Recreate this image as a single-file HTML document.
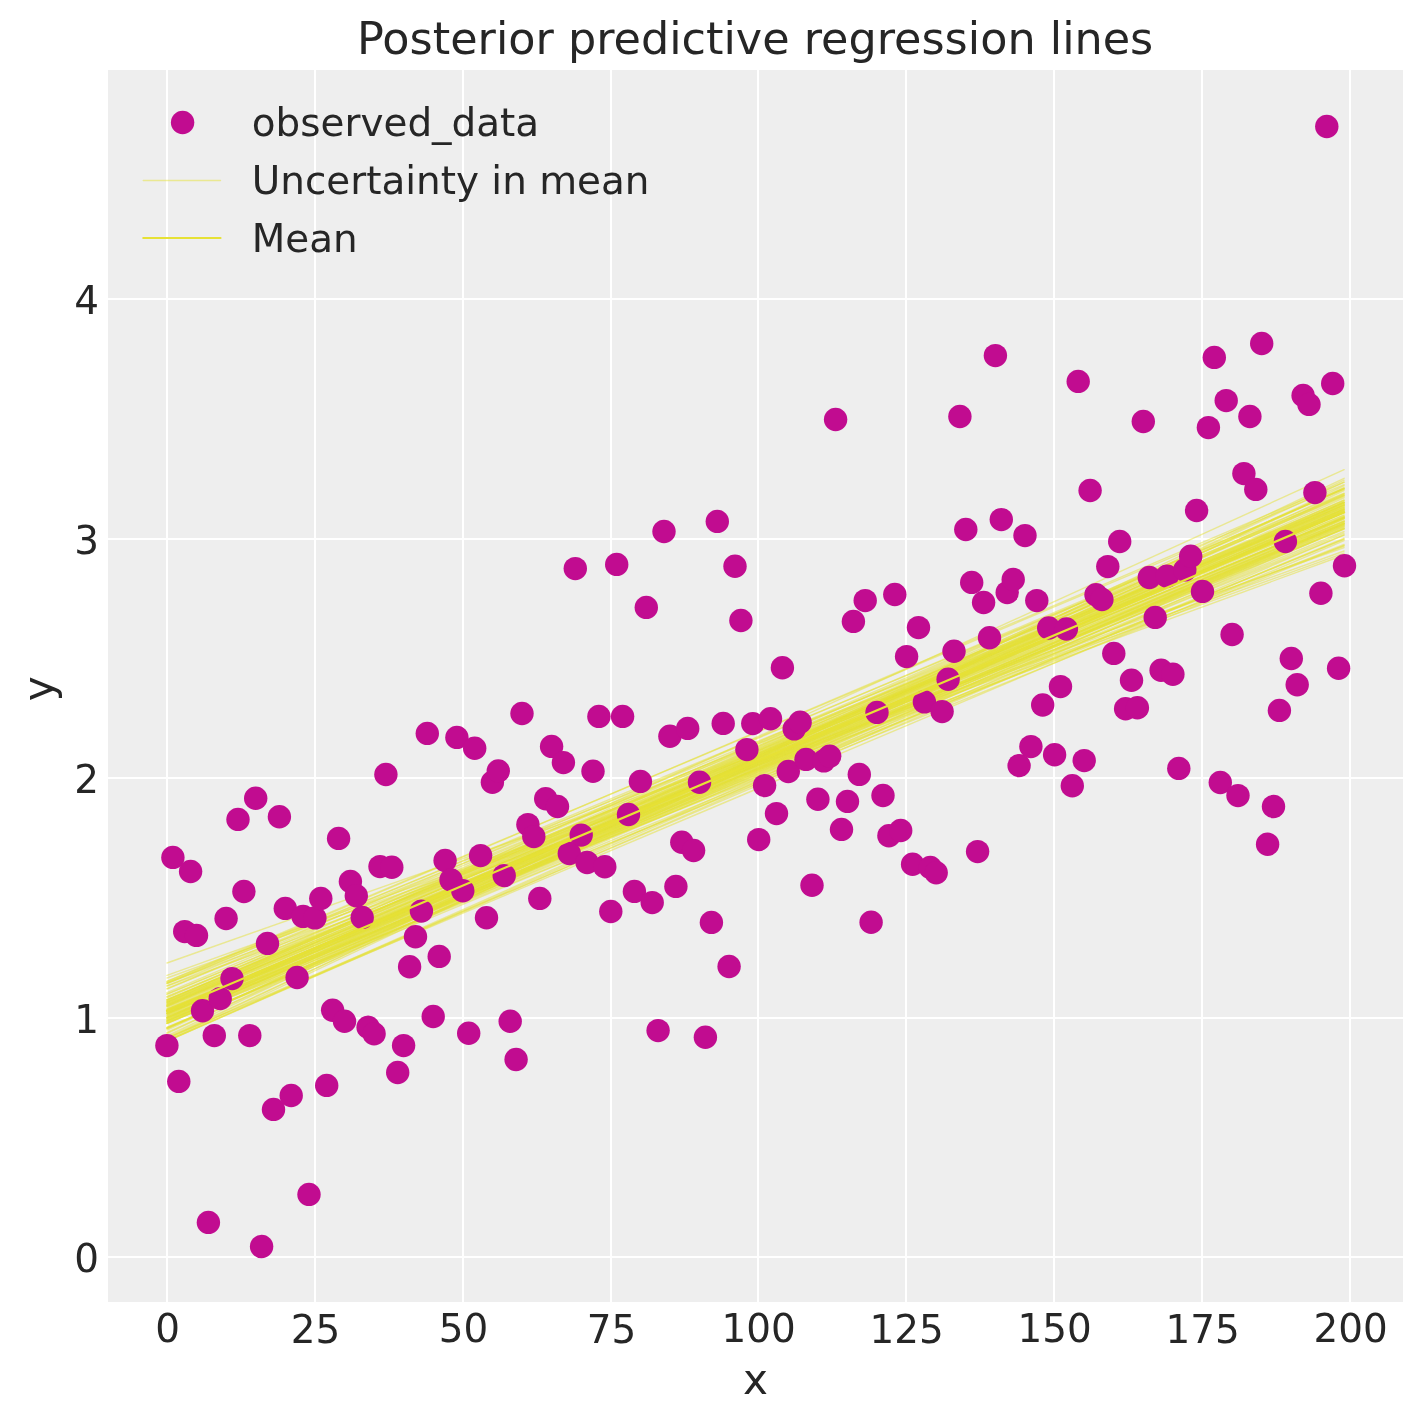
<!DOCTYPE html>
<html lang="en"><head><meta charset="utf-8"><title>Posterior predictive regression lines</title>
<style>
html,body{margin:0;padding:0;background:#fff;}
body{width:1423px;height:1423px;overflow:hidden;}
svg{display:block;}
text{font-family:"DejaVu Sans", "Liberation Sans", sans-serif;fill:#262626;}
.tk{font-size:38.9px;}
.lb{font-size:42.2px;}
.g rect{fill:#fff;}
.u line{stroke:#e6e135;stroke-opacity:0.5;stroke-width:1.39;stroke-linecap:round;}
.p circle{fill:#c10c90;}
</style></head><body>
<svg width="1423" height="1423" viewBox="0 0 1423 1423">
<rect x="0" y="0" width="1423" height="1423" fill="#ffffff"/>
<rect x="108" y="70" width="1295" height="1232" fill="#eeeeee"/>

<g class="g">
<rect x="166" y="70" width="2" height="1232"/>
<rect x="314" y="70" width="2" height="1232"/>
<rect x="462" y="70" width="2" height="1232"/>
<rect x="610" y="70" width="2" height="1232"/>
<rect x="757" y="70" width="2" height="1232"/>
<rect x="905" y="70" width="2" height="1232"/>
<rect x="1053" y="70" width="2" height="1232"/>
<rect x="1201" y="70" width="2" height="1232"/>
<rect x="1349" y="70" width="2" height="1232"/>
<rect x="108" y="1256" width="1295" height="2"/>
<rect x="108" y="1017" width="1295" height="2"/>
<rect x="108" y="777" width="1295" height="2"/>
<rect x="108" y="538" width="1295" height="2"/>
<rect x="108" y="298" width="1295" height="2"/>
</g>
<g class="u">
<line x1="167.0" y1="992.7" x2="1344.1" y2="495.0"/>
<line x1="167.0" y1="983.2" x2="1344.1" y2="506.8"/>
<line x1="167.0" y1="985.9" x2="1344.1" y2="507.3"/>
<line x1="167.0" y1="1000.6" x2="1344.1" y2="494.2"/>
<line x1="167.0" y1="999.6" x2="1344.1" y2="496.6"/>
<line x1="167.0" y1="1002.3" x2="1344.1" y2="495.6"/>
<line x1="167.0" y1="994.2" x2="1344.1" y2="505.1"/>
<line x1="167.0" y1="999.9" x2="1344.1" y2="500.8"/>
<line x1="167.0" y1="994.2" x2="1344.1" y2="508.0"/>
<line x1="167.0" y1="1014.9" x2="1344.1" y2="488.5"/>
<line x1="167.0" y1="988.5" x2="1344.1" y2="515.4"/>
<line x1="167.0" y1="1002.0" x2="1344.1" y2="502.2"/>
<line x1="167.0" y1="996.5" x2="1344.1" y2="509.2"/>
<line x1="167.0" y1="1003.8" x2="1344.1" y2="503.4"/>
<line x1="167.0" y1="1006.3" x2="1344.1" y2="502.0"/>
<line x1="167.0" y1="999.9" x2="1344.1" y2="509.1"/>
<line x1="167.0" y1="996.8" x2="1344.1" y2="511.8"/>
<line x1="167.0" y1="1005.7" x2="1344.1" y2="504.3"/>
<line x1="167.0" y1="1005.6" x2="1344.1" y2="504.9"/>
<line x1="167.0" y1="999.9" x2="1344.1" y2="512.7"/>
<line x1="167.0" y1="1012.1" x2="1344.1" y2="500.0"/>
<line x1="167.0" y1="1017.7" x2="1344.1" y2="495.3"/>
<line x1="167.0" y1="1002.9" x2="1344.1" y2="511.0"/>
<line x1="167.0" y1="1011.6" x2="1344.1" y2="502.6"/>
<line x1="167.0" y1="1022.6" x2="1344.1" y2="493.6"/>
<line x1="167.0" y1="1013.9" x2="1344.1" y2="502.7"/>
<line x1="167.0" y1="1011.1" x2="1344.1" y2="505.4"/>
<line x1="167.0" y1="1017.5" x2="1344.1" y2="500.2"/>
<line x1="167.0" y1="1019.9" x2="1344.1" y2="497.8"/>
<line x1="167.0" y1="1008.5" x2="1344.1" y2="510.8"/>
<line x1="167.0" y1="1001.6" x2="1344.1" y2="517.8"/>
<line x1="167.0" y1="1010.8" x2="1344.1" y2="508.9"/>
<line x1="167.0" y1="1015.3" x2="1344.1" y2="505.2"/>
<line x1="167.0" y1="1007.0" x2="1344.1" y2="514.9"/>
<line x1="167.0" y1="1004.7" x2="1344.1" y2="518.0"/>
<line x1="167.0" y1="1012.9" x2="1344.1" y2="509.9"/>
<line x1="167.0" y1="1006.7" x2="1344.1" y2="517.3"/>
<line x1="167.0" y1="1002.8" x2="1344.1" y2="521.3"/>
<line x1="167.0" y1="1013.0" x2="1344.1" y2="511.5"/>
<line x1="167.0" y1="1018.3" x2="1344.1" y2="507.1"/>
<line x1="167.0" y1="1009.4" x2="1344.1" y2="516.8"/>
<line x1="167.0" y1="1011.0" x2="1344.1" y2="516.7"/>
<line x1="167.0" y1="1003.8" x2="1344.1" y2="523.2"/>
<line x1="167.0" y1="1023.2" x2="1344.1" y2="504.5"/>
<line x1="167.0" y1="1018.9" x2="1344.1" y2="510.2"/>
<line x1="167.0" y1="1021.0" x2="1344.1" y2="509.4"/>
<line x1="167.0" y1="1028.5" x2="1344.1" y2="502.5"/>
<line x1="167.0" y1="1013.8" x2="1344.1" y2="517.6"/>
<line x1="167.0" y1="1010.4" x2="1344.1" y2="520.6"/>
<line x1="167.0" y1="1021.4" x2="1344.1" y2="511.4"/>
<line x1="167.0" y1="1004.7" x2="1344.1" y2="528.7"/>
<line x1="167.0" y1="1009.1" x2="1344.1" y2="524.1"/>
<line x1="167.0" y1="1011.3" x2="1344.1" y2="523.1"/>
<line x1="167.0" y1="1013.1" x2="1344.1" y2="521.3"/>
<line x1="167.0" y1="1009.7" x2="1344.1" y2="526.7"/>
<line x1="167.0" y1="1028.3" x2="1344.1" y2="508.7"/>
<line x1="167.0" y1="1013.1" x2="1344.1" y2="524.8"/>
<line x1="167.0" y1="1013.6" x2="1344.1" y2="525.0"/>
<line x1="167.0" y1="1032.5" x2="1344.1" y2="506.0"/>
<line x1="167.0" y1="1016.4" x2="1344.1" y2="523.8"/>
<line x1="167.0" y1="1021.2" x2="1344.1" y2="519.0"/>
<line x1="167.0" y1="1013.3" x2="1344.1" y2="527.6"/>
<line x1="167.0" y1="1023.7" x2="1344.1" y2="518.4"/>
<line x1="167.0" y1="1020.8" x2="1344.1" y2="522.3"/>
<line x1="167.0" y1="1018.2" x2="1344.1" y2="525.5"/>
<line x1="167.0" y1="1028.7" x2="1344.1" y2="516.5"/>
<line x1="167.0" y1="1017.4" x2="1344.1" y2="528.8"/>
<line x1="167.0" y1="1023.3" x2="1344.1" y2="523.4"/>
<line x1="167.0" y1="1019.3" x2="1344.1" y2="529.0"/>
<line x1="167.0" y1="1027.8" x2="1344.1" y2="521.3"/>
<line x1="167.0" y1="1015.8" x2="1344.1" y2="535.0"/>
<line x1="167.0" y1="1020.0" x2="1344.1" y2="531.5"/>
<line x1="167.0" y1="1027.4" x2="1344.1" y2="526.3"/>
<line x1="167.0" y1="1021.3" x2="1344.1" y2="533.2"/>
<line x1="167.0" y1="1017.3" x2="1344.1" y2="539.2"/>
<line x1="167.0" y1="1014.0" x2="1344.1" y2="544.5"/>
<line x1="167.0" y1="1041.0" x2="1344.1" y2="518.5"/>
<line x1="167.0" y1="1023.3" x2="1344.1" y2="539.2"/>
<line x1="167.0" y1="983.9" x2="1344.1" y2="493.1"/>
<line x1="167.0" y1="989.1" x2="1344.1" y2="489.4"/>
<line x1="167.0" y1="997.8" x2="1344.1" y2="488.5"/>
<line x1="167.0" y1="981.5" x2="1344.1" y2="502.9"/>
<line x1="167.0" y1="1001.4" x2="1344.1" y2="488.5"/>
<line x1="167.0" y1="1027.3" x2="1344.1" y2="538.2"/>
<line x1="167.0" y1="1022.8" x2="1344.1" y2="545.5"/>
<line x1="167.0" y1="1041.0" x2="1344.1" y2="523.4"/>
<line x1="167.0" y1="1037.9" x2="1344.1" y2="534.9"/>
<line x1="167.0" y1="1041.0" x2="1344.1" y2="528.2"/>
<line x1="167.0" y1="963.0" x2="1344.1" y2="547.7"/>
<line x1="167.0" y1="1005.6" x2="1344.1" y2="469.6"/>
<line x1="167.0" y1="975.4" x2="1344.1" y2="551.0"/>
<line x1="167.0" y1="978.0" x2="1344.1" y2="553.2"/>
<line x1="167.0" y1="986.0" x2="1344.1" y2="555.0"/>
<line x1="167.0" y1="1036.0" x2="1344.1" y2="478.3"/>
<line x1="167.0" y1="1039.0" x2="1344.1" y2="480.2"/>
<line x1="167.0" y1="1033.5" x2="1344.1" y2="482.2"/>
<line x1="167.0" y1="1040.5" x2="1344.1" y2="485.7"/>
<line x1="167.0" y1="1030.0" x2="1344.1" y2="487.5"/>
<line x1="167.0" y1="983.0" x2="1344.1" y2="546.0"/>
<line x1="167.0" y1="1037.5" x2="1344.1" y2="490.5"/>
<line x1="167.0" y1="1038.3" x2="1344.1" y2="540.6"/>
<line x1="167.0" y1="982.8" x2="1344.1" y2="482.1"/>
<line x1="167.0" y1="981.3" x2="1344.1" y2="484.6"/>
</g>
<g class="p">
<circle cx="166.9" cy="1045.6" r="11.7"/>
<circle cx="172.9" cy="857.4" r="11.7"/>
<circle cx="178.8" cy="1081.4" r="11.7"/>
<circle cx="184.7" cy="931.6" r="11.7"/>
<circle cx="190.6" cy="871.5" r="11.7"/>
<circle cx="196.5" cy="935.4" r="11.7"/>
<circle cx="202.5" cy="1010.8" r="11.7"/>
<circle cx="208.4" cy="1222.4" r="11.7"/>
<circle cx="214.3" cy="1035.6" r="11.7"/>
<circle cx="220.2" cy="998.6" r="11.7"/>
<circle cx="226.1" cy="918.5" r="11.7"/>
<circle cx="232.0" cy="978.6" r="11.7"/>
<circle cx="238.0" cy="819.4" r="11.7"/>
<circle cx="243.9" cy="891.5" r="11.7"/>
<circle cx="249.8" cy="1035.6" r="11.7"/>
<circle cx="255.7" cy="798.3" r="11.7"/>
<circle cx="261.6" cy="1246.5" r="11.7"/>
<circle cx="267.5" cy="943.4" r="11.7"/>
<circle cx="273.5" cy="1109.4" r="11.7"/>
<circle cx="279.4" cy="816.7" r="11.7"/>
<circle cx="285.3" cy="908.4" r="11.7"/>
<circle cx="291.2" cy="1095.5" r="11.7"/>
<circle cx="297.1" cy="977.5" r="11.7"/>
<circle cx="303.1" cy="916.4" r="11.7"/>
<circle cx="309.0" cy="1194.4" r="11.7"/>
<circle cx="314.9" cy="917.9" r="11.7"/>
<circle cx="320.8" cy="898.5" r="11.7"/>
<circle cx="326.7" cy="1085.4" r="11.7"/>
<circle cx="332.6" cy="1010.3" r="11.7"/>
<circle cx="338.6" cy="838.4" r="11.7"/>
<circle cx="344.5" cy="1021.3" r="11.7"/>
<circle cx="350.4" cy="881.4" r="11.7"/>
<circle cx="356.3" cy="895.7" r="11.7"/>
<circle cx="362.2" cy="917.4" r="11.7"/>
<circle cx="368.1" cy="1027.2" r="11.7"/>
<circle cx="374.1" cy="1033.7" r="11.7"/>
<circle cx="380.0" cy="866.6" r="11.7"/>
<circle cx="385.9" cy="774.5" r="11.7"/>
<circle cx="391.8" cy="867.3" r="11.7"/>
<circle cx="397.7" cy="1072.5" r="11.7"/>
<circle cx="403.6" cy="1045.6" r="11.7"/>
<circle cx="409.6" cy="966.8" r="11.7"/>
<circle cx="415.5" cy="936.8" r="11.7"/>
<circle cx="421.4" cy="911.1" r="11.7"/>
<circle cx="427.3" cy="733.4" r="11.7"/>
<circle cx="433.2" cy="1016.5" r="11.7"/>
<circle cx="439.2" cy="956.4" r="11.7"/>
<circle cx="445.1" cy="860.5" r="11.7"/>
<circle cx="451.0" cy="879.9" r="11.7"/>
<circle cx="456.9" cy="737.4" r="11.7"/>
<circle cx="462.8" cy="890.8" r="11.7"/>
<circle cx="468.7" cy="1033.3" r="11.7"/>
<circle cx="474.7" cy="748.2" r="11.7"/>
<circle cx="480.6" cy="855.6" r="11.7"/>
<circle cx="486.5" cy="917.8" r="11.7"/>
<circle cx="492.4" cy="782.3" r="11.7"/>
<circle cx="498.3" cy="771.0" r="11.7"/>
<circle cx="504.2" cy="875.6" r="11.7"/>
<circle cx="510.2" cy="1021.3" r="11.7"/>
<circle cx="516.1" cy="1059.5" r="11.7"/>
<circle cx="522.0" cy="713.5" r="11.7"/>
<circle cx="527.9" cy="824.6" r="11.7"/>
<circle cx="533.8" cy="836.6" r="11.7"/>
<circle cx="539.8" cy="898.4" r="11.7"/>
<circle cx="545.7" cy="798.7" r="11.7"/>
<circle cx="551.6" cy="746.4" r="11.7"/>
<circle cx="557.5" cy="806.5" r="11.7"/>
<circle cx="563.4" cy="762.6" r="11.7"/>
<circle cx="569.3" cy="853.5" r="11.7"/>
<circle cx="575.3" cy="568.6" r="11.7"/>
<circle cx="581.2" cy="835.1" r="11.7"/>
<circle cx="587.1" cy="862.5" r="11.7"/>
<circle cx="593.0" cy="771.2" r="11.7"/>
<circle cx="598.9" cy="716.4" r="11.7"/>
<circle cx="604.8" cy="866.8" r="11.7"/>
<circle cx="610.8" cy="911.5" r="11.7"/>
<circle cx="616.7" cy="564.4" r="11.7"/>
<circle cx="622.6" cy="716.4" r="11.7"/>
<circle cx="628.5" cy="814.5" r="11.7"/>
<circle cx="634.4" cy="891.4" r="11.7"/>
<circle cx="640.4" cy="781.4" r="11.7"/>
<circle cx="646.3" cy="607.4" r="11.7"/>
<circle cx="652.2" cy="902.6" r="11.7"/>
<circle cx="658.1" cy="1030.6" r="11.7"/>
<circle cx="664.0" cy="531.5" r="11.7"/>
<circle cx="669.9" cy="736.2" r="11.7"/>
<circle cx="675.9" cy="886.4" r="11.7"/>
<circle cx="681.8" cy="842.3" r="11.7"/>
<circle cx="687.7" cy="728.4" r="11.7"/>
<circle cx="693.6" cy="850.5" r="11.7"/>
<circle cx="699.5" cy="782.3" r="11.7"/>
<circle cx="705.4" cy="1037.3" r="11.7"/>
<circle cx="711.4" cy="922.4" r="11.7"/>
<circle cx="717.3" cy="521.4" r="11.7"/>
<circle cx="723.2" cy="723.4" r="11.7"/>
<circle cx="729.1" cy="966.5" r="11.7"/>
<circle cx="735.0" cy="566.3" r="11.7"/>
<circle cx="740.9" cy="620.5" r="11.7"/>
<circle cx="746.9" cy="749.6" r="11.7"/>
<circle cx="752.8" cy="723.6" r="11.7"/>
<circle cx="758.7" cy="839.6" r="11.7"/>
<circle cx="764.6" cy="785.6" r="11.7"/>
<circle cx="770.5" cy="718.8" r="11.7"/>
<circle cx="776.5" cy="813.6" r="11.7"/>
<circle cx="782.4" cy="667.7" r="11.7"/>
<circle cx="788.3" cy="771.5" r="11.7"/>
<circle cx="794.2" cy="728.9" r="11.7"/>
<circle cx="800.1" cy="722.3" r="11.7"/>
<circle cx="806.0" cy="759.4" r="11.7"/>
<circle cx="812.0" cy="885.3" r="11.7"/>
<circle cx="817.9" cy="799.3" r="11.7"/>
<circle cx="823.8" cy="760.9" r="11.7"/>
<circle cx="829.7" cy="756.3" r="11.7"/>
<circle cx="835.6" cy="419.5" r="11.7"/>
<circle cx="841.5" cy="829.4" r="11.7"/>
<circle cx="847.5" cy="801.4" r="11.7"/>
<circle cx="853.4" cy="621.4" r="11.7"/>
<circle cx="859.3" cy="774.4" r="11.7"/>
<circle cx="865.2" cy="600.6" r="11.7"/>
<circle cx="871.1" cy="922.2" r="11.7"/>
<circle cx="877.0" cy="712.4" r="11.7"/>
<circle cx="883.0" cy="795.5" r="11.7"/>
<circle cx="888.9" cy="835.8" r="11.7"/>
<circle cx="894.8" cy="594.5" r="11.7"/>
<circle cx="900.7" cy="830.5" r="11.7"/>
<circle cx="906.6" cy="656.6" r="11.7"/>
<circle cx="912.6" cy="864.2" r="11.7"/>
<circle cx="918.5" cy="627.6" r="11.7"/>
<circle cx="924.4" cy="701.9" r="11.7"/>
<circle cx="930.3" cy="867.4" r="11.7"/>
<circle cx="936.2" cy="872.7" r="11.7"/>
<circle cx="942.1" cy="711.6" r="11.7"/>
<circle cx="948.1" cy="679.3" r="11.7"/>
<circle cx="954.0" cy="651.3" r="11.7"/>
<circle cx="959.9" cy="416.5" r="11.7"/>
<circle cx="965.8" cy="529.5" r="11.7"/>
<circle cx="971.7" cy="582.4" r="11.7"/>
<circle cx="977.6" cy="851.6" r="11.7"/>
<circle cx="983.6" cy="602.5" r="11.7"/>
<circle cx="989.5" cy="637.7" r="11.7"/>
<circle cx="995.4" cy="355.6" r="11.7"/>
<circle cx="1001.3" cy="519.6" r="11.7"/>
<circle cx="1007.2" cy="592.6" r="11.7"/>
<circle cx="1013.2" cy="579.5" r="11.7"/>
<circle cx="1019.1" cy="765.6" r="11.7"/>
<circle cx="1025.0" cy="535.6" r="11.7"/>
<circle cx="1030.9" cy="746.6" r="11.7"/>
<circle cx="1036.8" cy="600.6" r="11.7"/>
<circle cx="1042.7" cy="705.0" r="11.7"/>
<circle cx="1048.7" cy="628.0" r="11.7"/>
<circle cx="1054.6" cy="754.8" r="11.7"/>
<circle cx="1060.5" cy="686.6" r="11.7"/>
<circle cx="1066.4" cy="629.0" r="11.7"/>
<circle cx="1072.3" cy="785.7" r="11.7"/>
<circle cx="1078.2" cy="381.4" r="11.7"/>
<circle cx="1084.2" cy="760.6" r="11.7"/>
<circle cx="1090.1" cy="490.5" r="11.7"/>
<circle cx="1096.0" cy="594.8" r="11.7"/>
<circle cx="1101.9" cy="599.5" r="11.7"/>
<circle cx="1107.8" cy="566.6" r="11.7"/>
<circle cx="1113.8" cy="653.4" r="11.7"/>
<circle cx="1119.7" cy="541.5" r="11.7"/>
<circle cx="1125.6" cy="708.7" r="11.7"/>
<circle cx="1131.5" cy="680.2" r="11.7"/>
<circle cx="1137.4" cy="707.7" r="11.7"/>
<circle cx="1143.3" cy="421.5" r="11.7"/>
<circle cx="1149.3" cy="577.5" r="11.7"/>
<circle cx="1155.2" cy="617.4" r="11.7"/>
<circle cx="1161.1" cy="670.2" r="11.7"/>
<circle cx="1167.0" cy="576.3" r="11.7"/>
<circle cx="1172.9" cy="674.3" r="11.7"/>
<circle cx="1178.8" cy="768.4" r="11.7"/>
<circle cx="1184.8" cy="569.9" r="11.7"/>
<circle cx="1190.7" cy="556.2" r="11.7"/>
<circle cx="1196.6" cy="510.5" r="11.7"/>
<circle cx="1202.5" cy="591.4" r="11.7"/>
<circle cx="1208.4" cy="427.6" r="11.7"/>
<circle cx="1214.3" cy="357.4" r="11.7"/>
<circle cx="1220.3" cy="782.5" r="11.7"/>
<circle cx="1226.2" cy="400.6" r="11.7"/>
<circle cx="1232.1" cy="634.5" r="11.7"/>
<circle cx="1238.0" cy="795.6" r="11.7"/>
<circle cx="1243.9" cy="473.6" r="11.7"/>
<circle cx="1249.9" cy="416.5" r="11.7"/>
<circle cx="1255.8" cy="489.4" r="11.7"/>
<circle cx="1261.7" cy="343.5" r="11.7"/>
<circle cx="1267.6" cy="844.3" r="11.7"/>
<circle cx="1273.5" cy="806.5" r="11.7"/>
<circle cx="1279.4" cy="710.4" r="11.7"/>
<circle cx="1285.4" cy="541.5" r="11.7"/>
<circle cx="1291.3" cy="658.5" r="11.7"/>
<circle cx="1297.2" cy="684.7" r="11.7"/>
<circle cx="1303.1" cy="395.4" r="11.7"/>
<circle cx="1309.0" cy="404.4" r="11.7"/>
<circle cx="1314.9" cy="492.6" r="11.7"/>
<circle cx="1320.9" cy="593.3" r="11.7"/>
<circle cx="1326.8" cy="126.5" r="11.7"/>
<circle cx="1332.7" cy="383.5" r="11.7"/>
<circle cx="1338.6" cy="668.2" r="11.7"/>
<circle cx="1344.5" cy="565.7" r="11.7"/>
</g>
<line x1="167.0" y1="1010.8" x2="1344.1" y2="512.6" stroke="#e6e135" stroke-width="2.2" stroke-linecap="round"/>
<circle cx="182.6" cy="122.5" r="11.7" fill="#c10c90"/>
<line x1="143.3" y1="180.5" x2="220.5" y2="180.5" stroke="#e6e135" stroke-opacity="0.5" stroke-width="1.39" stroke-linecap="round"/>
<line x1="143.3" y1="238" x2="220.5" y2="238" stroke="#e6e135" stroke-width="2.2" stroke-linecap="round"/>
<text class="tk" x="251.8" y="135.8">observed_data</text>
<text class="tk" x="251.8" y="194.0">Uncertainty in mean</text>
<text class="tk" x="251.8" y="251.9">Mean</text>
<text class="tk" x="167.6" y="1342.0" text-anchor="middle">0</text>
<text class="tk" x="315.6" y="1343.1" text-anchor="middle">25</text>
<text class="tk" x="463.6" y="1342.0" text-anchor="middle">50</text>
<text class="tk" x="611.6" y="1343.1" text-anchor="middle">75</text>
<text class="tk" x="758.6" y="1342.0" text-anchor="middle">100</text>
<text class="tk" x="906.6" y="1343.1" text-anchor="middle">125</text>
<text class="tk" x="1054.6" y="1342.0" text-anchor="middle">150</text>
<text class="tk" x="1202.6" y="1343.1" text-anchor="middle">175</text>
<text class="tk" x="1350.6" y="1342.0" text-anchor="middle">200</text>
<text class="tk" x="98.9" y="1271.7" text-anchor="end">0</text>
<text class="tk" x="98.9" y="1032.7" text-anchor="end">1</text>
<text class="tk" x="98.9" y="792.7" text-anchor="end">2</text>
<text class="tk" x="98.9" y="553.7" text-anchor="end">3</text>
<text class="tk" x="98.9" y="313.7" text-anchor="end">4</text>
<text x="755.2" y="54.4" text-anchor="middle" font-size="44.52">Posterior predictive regression lines</text>
<text class="lb" x="755.4" y="1393.7" text-anchor="middle">x</text>
<text class="lb" transform="translate(53.4,688.8) rotate(-90)" text-anchor="middle">y</text>
</svg></body></html>
